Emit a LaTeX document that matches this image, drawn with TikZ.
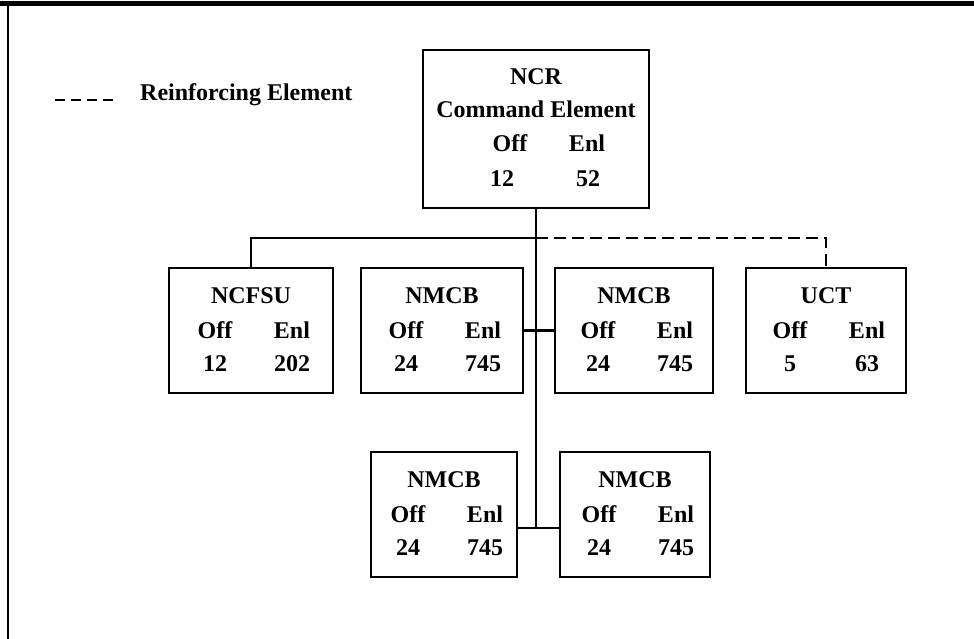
\documentclass[tikz,border=0pt]{standalone}
\usepackage{fontspec}
\setmainfont{Liberation Serif}
\usetikzlibrary{calc,positioning}

\begin{document}
\begin{tikzpicture}[x=1pt, y=-1pt]
\tikzset{unitbox/.style={draw,line width=2pt,inner sep=0,minimum height=125pt},
boxlabel/.style={font=\fontsize{24}{24}\selectfont\bfseries,inner sep=0,text height=16pt,text depth=0pt},
link/.style={line width=1.8pt},
reinf/.style={line width=2.4pt,dash pattern=on 12pt off 6pt}}

\useasboundingbox (0,0) rectangle (974,639);

%% Frame
\draw[line width=5pt] (0,4) -- (974,4);
\draw[line width=1.6pt] (8,4) -- (8,639);

%% Boxes
\node (ncr) [unitbox,minimum width=226pt,minimum height=158pt] at (536,129) {};
\node (ncfsu) [unitbox,minimum width=164pt] at (251,330.5) {};
\node (nmcbA) [unitbox,minimum width=162pt] at (442,330.5) {};
\node (nmcbB) [unitbox,minimum width=158pt] at (634,330.5) {};
\node (uct) [unitbox,minimum width=160pt] at (826,330.5) {};
\node (nmcbC) [unitbox,minimum width=146pt] at (444,514.5) {};
\node (nmcbD) [unitbox,minimum width=150pt] at (635,514.5) {};

\node [boxlabel] at ($(ncr)+(0,-52)$) {NCR};
\node [boxlabel] at ($(ncr)+(0,-19)$) {Command Element};
\node [boxlabel] at ($(ncr)+(-26,15)$) {Off};
\node [boxlabel] at ($(ncr)+(51,15)$) {Enl};
\node [boxlabel] at ($(ncr)+(-34,49)$) {12};
\node [boxlabel] at ($(ncr)+(52,49)$) {52};

\foreach \u/\lab/\o/\e in {ncfsu/NCFSU/12/202, nmcbA/NMCB/24/745, nmcbB/NMCB/24/745,
  uct/UCT/5/63, nmcbC/NMCB/24/745, nmcbD/NMCB/24/745} {
  \node [boxlabel] at ($(\u)+(0,-35)$) {\lab};
  \node [boxlabel] at ($(\u)+(-36,0)$) {Off};
  \node [boxlabel] at ($(\u)+(41,0)$) {Enl};
  \node [boxlabel] at ($(\u)+(-36,33)$) {\o};
  \node [boxlabel] at ($(\u)+(41,33)$) {\e};
}

%% Legend
\coordinate (lgA) at (55,100);
\coordinate (lgB) at (117,100);
\draw [reinf,dash pattern=on 10pt off 6pt] (lgA) -- (lgB);
\node (lgtext) [boxlabel,anchor=west] at (140,93) {Reinforcing Element};

%% Edges
\coordinate (bus) at (ncr.south |- 0,238);
\coordinate (low) at (ncr.south |- 0,528);
\draw [link] (ncr.south) -- (low);
\draw [link] (ncfsu.north) |- (bus);
\draw [reinf] (bus) -| (uct.north);
\draw [line width=3.5pt] (nmcbA) -- (nmcbB);
\draw [link] (nmcbC.east |- low) -- (nmcbD.west |- low);

\end{tikzpicture}
\end{document}
